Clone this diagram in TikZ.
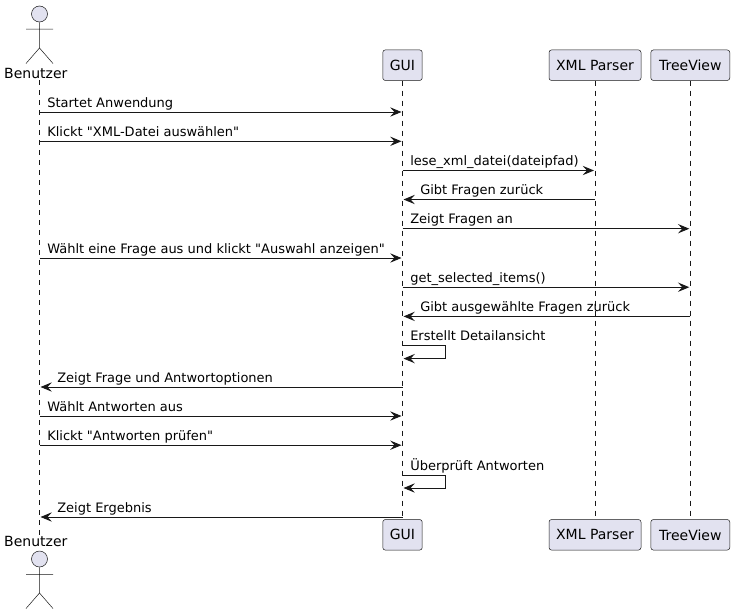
\documentclass[tikz,border=0pt]{standalone}
\usepackage{fontspec}
\defaultfontfeatures[\rmfamily]{}
\setmainfont{DejaVu Sans}
\usetikzlibrary{arrows.meta}
\definecolor{pfill}{HTML}{E2E2F0}
\definecolor{pline}{HTML}{181818}
\begin{document}
\begin{tikzpicture}[x=0.75pt,y=-0.75pt,
  part/.style={draw=pline,fill=pfill,line width=0.375pt,rounded corners=1.9pt,minimum height=22.9pt,inner sep=0pt,font=\fontsize{10.5}{12}\selectfont,text=black},
  actname/.style={font=\fontsize{10.5}{12}\selectfont,inner sep=0pt,anchor=base,text=black},
  life/.style={draw=pline,line width=0.375pt,dash pattern=on 3.75pt off 3.75pt},
  msg/.style={draw=pline,line width=0.75pt,-{Stealth[length=8.5pt,width=7pt,inset=3.2pt,color=pline]},shorten >=0.75pt},
  msgtxt/.style={font=\fontsize{9.75}{12}\selectfont,inner sep=0pt,anchor=base west,text=black},
  limb/.style={draw=pline,line width=0.375pt},
  acthead/.style={draw=pline,fill=pfill,line width=0.375pt,circle,minimum size=12pt,inner sep=0pt}]
\useasboundingbox (0,0) rectangle (735,614);
% lifeline anchors
\coordinate (bz) at (39.5,80);
\coordinate (bzb) at (39.5,535);
\node[part,minimum width=29.6pt] (gui) at (402.5,65.2) {GUI};
\node[part,minimum width=69pt] (xml) at (595,65.2) {XML Parser};
\node[part,minimum width=59.2pt] (tree) at (690.3,65.2) {TreeView};
\node[part,minimum width=29.6pt] (guib) at (402.5,534.8) {GUI};
\node[part,minimum width=69pt] (xmlb) at (595,534.8) {XML Parser};
\node[part,minimum width=59.2pt] (treeb) at (690.3,534.8) {TreeView};
\draw[life] (bz) -- (bzb);
\draw[life] (gui.south) -- (guib.north);
\draw[life] (xml.south) -- (xmlb.north);
\draw[life] (tree.south) -- (treeb.north);
% actors
\node[actname] (actt) at (35.8,78) {Benutzer};
\node[actname] (actb) at (35.8,546.5) {Benutzer};
\node[acthead] (headt) at (39.5,14) {};
\draw[limb] (headt.south) -- (39.5,48) (26,29) -- (53,29) (26,63.5) -- (39.5,48) -- (53,63.5);
\node[acthead] (headb) at (39.5,559) {};
\draw[limb] (headb.south) -- (39.5,593) (26,574.5) -- (53,574.5) (26,608.5) -- (39.5,593) -- (53,608.5);
% messages
\foreach \yy/\from/\to/\tx/\txt in {
  112/bz/gui/47/{Startet Anwendung},
  141.3/bz/gui/47/{Klickt "XML-Datei auswählen"},
  170.5/gui/xml/410/{lese\_xml\_datei(dateipfad)},
  199.5/xml/gui/420/{Gibt Fragen zurück},
  228.7/gui/tree/410/{Zeigt Fragen an},
  258/bz/gui/47/{Wählt eine Frage aus und klickt "Auswahl anzeigen"},
  287.2/gui/tree/410/{get\_selected\_items()},
  316.4/tree/gui/420/{Gibt ausgewählte Fragen zurück},
  387/gui/bz/57/{Zeigt Frage und Antwortoptionen},
  416/bz/gui/47/{Wählt Antworten aus},
  445.2/bz/gui/47/{Klickt "Antworten prüfen"},
  517/gui/bz/57/{Zeigt Ergebnis}}{
  \coordinate (p) at (0,\yy);
  \draw[msg] (\from |- p) -- (\to |- p);
  \node[msgtxt] at (\tx,\yy-5) {\txt};
}
% self messages
\coordinate (a1) at (402.5,345.6);
\coordinate (a2) at (445,345.6);
\coordinate (a3) at (445,358.6);
\coordinate (a4) at (402.5,358.6);
\draw[msg] (a1) -- (a2) -- (a3) -- (a4);
\node[msgtxt] (s1) at (410,340.5) {Erstellt Detailansicht};
\coordinate (b1) at (402.5,475);
\coordinate (b2) at (445,475);
\coordinate (b3) at (445,488);
\coordinate (b4) at (402.5,488);
\draw[msg] (b1) -- (b2) -- (b3) -- (b4);
\node[msgtxt] (s2) at (410,470) {Überprüft Antworten};
\end{tikzpicture}
\end{document}
